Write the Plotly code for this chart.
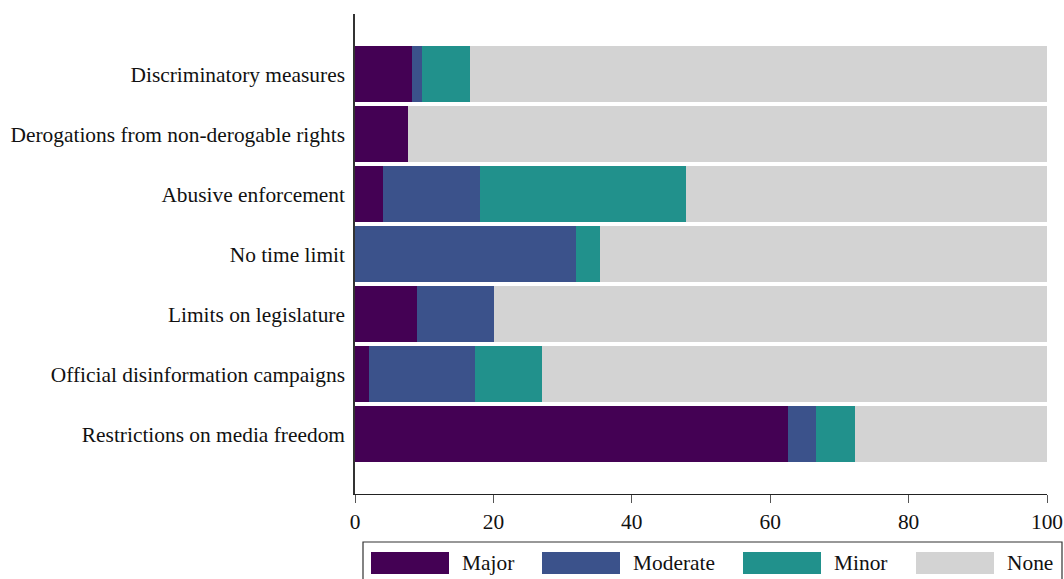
import plotly.graph_objects as go

categories = [
    "Discriminatory measures",
    "Derogations from non-derogable rights",
    "Abusive enforcement",
    "No time limit",
    "Limits on legislature",
    "Official disinformation campaigns",
    "Restrictions on media freedom",
]
major = [8.2, 7.6, 4.0, 0.0, 9.0, 2.0, 62.6]
moderate = [1.5, 0.0, 14.0, 31.9, 11.1, 15.3, 4.0]
minor = [6.9, 0.0, 29.9, 3.5, 0.0, 9.7, 5.6]
none = [83.4, 92.4, 52.1, 64.6, 79.9, 73.0, 27.8]

series_names = ["Major", "Moderate", "Minor", "None"]
series_values = [major, moderate, minor, none]
colors = ["#440154", "#3b528b", "#21918c", "#d3d3d3"]

FONT = "Liberation Serif"
FS = 21.4

fig = go.Figure()
for name, vals, col in zip(series_names, series_values, colors):
    fig.add_trace(go.Bar(
        y=categories, x=vals, name=name, orientation="h",
        marker=dict(color=col, line=dict(width=0)),
        showlegend=False,
    ))

W, H = 1064, 579
ml, mt = 355, 14
mr = W - 1047
mb = H - 494
pw, ph = W - ml - mr, H - mt - mb


def px(x):
    return (x - ml) / pw


def py(y):
    return (H - mb - y) / ph


shapes = [dict(type="rect", xref="paper", yref="paper",
               x0=px(363), x1=px(1062), y0=py(600), y1=py(542),
               line=dict(color="#333333", width=1.2), fillcolor="rgba(0,0,0,0)")]
annotations = []
swatch_x = [371, 542, 743, 916]
for name, col, sx in zip(series_names, colors, swatch_x):
    shapes.append(dict(type="rect", xref="paper", yref="paper",
                       x0=px(sx), x1=px(sx + 78), y0=py(574), y1=py(552),
                       line=dict(width=0), fillcolor=col))
    annotations.append(dict(xref="paper", yref="paper", x=px(sx + 89), y=py(563),
                            text=name, showarrow=False, xanchor="left", yanchor="middle",
                            font=dict(family=FONT, size=FS, color="#111111")))

fig.update_layout(
    width=W, height=H,
    barmode="stack", bargap=0.083,
    margin=dict(l=ml, r=mr, t=mt, b=mb, autoexpand=False),
    plot_bgcolor="white", paper_bgcolor="white",
    font=dict(family=FONT, size=FS, color="#111111"),
    shapes=shapes, annotations=annotations,
    xaxis=dict(range=[0, 100], tickvals=[0, 20, 40, 60, 80, 100], automargin=False,
               showgrid=False, zeroline=False, showline=True, linecolor="#222222",
               linewidth=1.2, ticks="outside", ticklen=8, tickcolor="#555555",
               tickfont=dict(family=FONT, size=FS, color="#111111")),
    yaxis=dict(categoryorder="array", categoryarray=categories[::-1], automargin=False,
               range=[-1, 7], showgrid=False, zeroline=False, showline=True,
               linecolor="#333333", linewidth=1.5, ticks="", ticklabelstandoff=4,
               tickfont=dict(family=FONT, size=FS, color="#111111")),
)

fig.write_html(
    "out.html",
    config={"displayModeBar": False},
    post_script="document.body.style.margin='0';document.body.style.overflow='hidden';",
)
